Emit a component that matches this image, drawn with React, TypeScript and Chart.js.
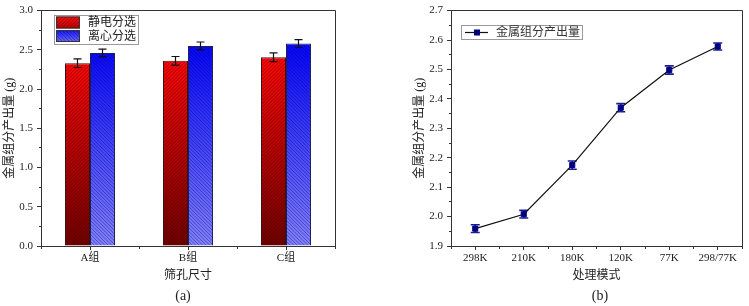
import React, { useEffect, useRef } from "react";
import { Chart, registerables } from "chart.js";

Chart.register(...registerables);

// ---------- data: chart (a) ----------
const sieveGroups = ["A组", "B组", "C组"];
const seriesNames = ["静电分选", "离心分选"];
const electrostaticYield = [2.33, 2.36, 2.405];
const electrostaticError = [0.055, 0.055, 0.055];
const centrifugalYield = [2.46, 2.55, 2.58];
const centrifugalError = [0.05, 0.05, 0.05];
const yMinA = 0;
const yMaxA = 3;
const yStepA = 0.5;
const xTitleA = "筛孔尺寸";

// ---------- data: chart (b) ----------
const treatmentModes = ["298K", "210K", "180K", "120K", "77K", "298/77K"];
const lineSeriesName = "金属组分产出量";
const metalYield = [1.959, 2.008, 2.175, 2.37, 2.498, 2.578];
const metalYieldError = [0.013, 0.013, 0.014, 0.014, 0.014, 0.012];
const yMinB = 1.9;
const yMaxB = 2.7;
const yStepB = 0.1;
const xTitleB = "处理模式";

const yTitle = "金属组分产出量 (g)";
const captions = ["(a)", "(b)"];

const FONT = "'Liberation Serif', 'Noto Sans CJK SC', serif";
const AXIS = "#333";
const TEXT = "#222";

function px(v: number) {
  return Math.round(v - 0.5) + 0.5;
}

function hatchRect(ctx: CanvasRenderingContext2D, l: number, t: number, r: number, b: number, dir: number, step: number, color: string) {
  if (r <= l || b <= t) return;
  ctx.save();
  ctx.beginPath();
  ctx.rect(l, t, r - l, b - t);
  ctx.clip();
  ctx.strokeStyle = color;
  ctx.lineWidth = 1;
  ctx.beginPath();
  const h = b - t;
  for (let k = l - h - step; k < r + step; k += step) {
    if (dir > 0) {
      ctx.moveTo(k, b);
      ctx.lineTo(k + h, t);
    } else {
      ctx.moveTo(k, t);
      ctx.lineTo(k + h, b);
    }
  }
  ctx.stroke();
  ctx.restore();
}

const frameMinorPlugin = (yStep: number) => ({
  id: "frameMinor",
  afterDraw(chart: any) {
    const { ctx, chartArea: a, scales } = chart;
    const x = scales.x;
    const y = scales.y;
    ctx.save();
    ctx.strokeStyle = AXIS;
    ctx.lineWidth = 1;
    ctx.beginPath();
    // top and right frame
    ctx.moveTo(px(a.left), px(a.top));
    ctx.lineTo(px(a.right), px(a.top));
    ctx.lineTo(px(a.right), px(a.bottom));
    // minor y ticks
    for (let v = y.min + yStep / 2; v < y.max; v += yStep) {
      const py = px(y.getPixelForValue(v));
      ctx.moveTo(a.left - 2, py);
      ctx.lineTo(px(a.left), py);
    }
    // minor x ticks at category boundaries
    const n = chart.data.labels.length;
    for (let i = 0; i <= n; i++) {
      const xx = px(x.getPixelForValue(i - 0.5));
      ctx.moveTo(xx, px(a.bottom));
      ctx.lineTo(xx, a.bottom + 3);
    }
    ctx.stroke();
    ctx.restore();
  },
});

function makeScales(opts: {
  yMin: number; yMax: number; yStep: number; xTitle: string; yWidth: number; xHeight: number;
}) {
  return {
    x: {
      type: "category" as const,
      offset: true,
      grid: { display: true, drawOnChartArea: false, drawTicks: true, tickLength: 4, offset: false, color: AXIS, tickColor: AXIS },
      border: { display: true, color: AXIS, width: 1 },
      ticks: { font: { family: FONT, size: 11 }, color: TEXT, padding: 2, maxRotation: 0, autoSkip: false },
      title: { display: true, text: opts.xTitle, font: { family: FONT, size: 12 }, color: TEXT, padding: { top: 0, bottom: 0 } },
      afterFit: (s: any) => { s.height = opts.xHeight; },
    },
    y: {
      type: "linear" as const,
      min: opts.yMin,
      max: opts.yMax,
      grid: { display: true, drawOnChartArea: false, drawTicks: true, tickLength: 4, color: AXIS, tickColor: AXIS },
      border: { display: true, color: AXIS, width: 1 },
      ticks: {
        stepSize: opts.yStep,
        font: { family: FONT, size: 11 },
        color: TEXT,
        padding: 4,
        callback: (v: any) => Number(v).toFixed(1),
      },
      title: { display: true, text: yTitle, font: { family: FONT, size: 12 }, color: TEXT, padding: { top: 3, bottom: 0 } },
      afterFit: (s: any) => { s.width = opts.yWidth; },
    },
  };
}

function BarChartA() {
  const ref = useRef<HTMLCanvasElement>(null);
  useEffect(() => {
    const canvas = ref.current!;
    const errs = [electrostaticError, centrifugalError];
    const hatchDirs = [1, -1];
    const hatchColors = ["rgba(40,0,0,0.35)", "rgba(0,0,60,0.35)"];

    const gradFill = (c: any, bottomCol: string, topCol: string, fallback: string) => {
      const chart = c.chart;
      const a = chart.chartArea;
      if (!a || !chart.scales.y) return fallback;
      const g = chart.ctx.createLinearGradient(0, a.bottom, 0, chart.scales.y.getPixelForValue(2.45));
      g.addColorStop(0, bottomCol);
      g.addColorStop(1, topCol);
      return g;
    };

    const barDecor = {
      id: "barDecor",
      afterDatasetsDraw(chart: any) {
        const { ctx } = chart;
        const y = chart.scales.y;
        chart.data.datasets.forEach((ds: any, i: number) => {
          const meta = chart.getDatasetMeta(i);
          meta.data.forEach((bar: any) => {
            const p = bar.getProps(["x", "y", "base", "width"], true);
            const l = p.x - p.width / 2;
            const r = p.x + p.width / 2;
            hatchRect(ctx, l + 1, p.y + 1, r - 1, p.base, hatchDirs[i], 3.5, hatchColors[i]);
          });
        });
        // error bars
        ctx.save();
        ctx.strokeStyle = "#111";
        ctx.lineWidth = 1.2;
        chart.data.datasets.forEach((ds: any, i: number) => {
          const meta = chart.getDatasetMeta(i);
          meta.data.forEach((bar: any, j: number) => {
            const v = ds.data[j];
            const e = errs[i][j];
            const x = px(bar.x);
            const yt = y.getPixelForValue(v + e);
            const yb = y.getPixelForValue(v - e);
            ctx.beginPath();
            ctx.moveTo(x, yt);
            ctx.lineTo(x, yb);
            ctx.moveTo(x - 4, yt);
            ctx.lineTo(x + 4, yt);
            ctx.moveTo(x - 4, yb);
            ctx.lineTo(x + 4, yb);
            ctx.stroke();
          });
        });
        ctx.restore();
      },
    };

    const legendA = {
      id: "legendA",
      afterDraw(chart: any) {
        const { ctx } = chart;
        ctx.save();
        ctx.fillStyle = "#fff";
        ctx.fillRect(54.5, 15.5, 84, 29);
        ctx.strokeStyle = "#999";
        ctx.lineWidth = 1;
        ctx.strokeRect(54.5, 15.5, 84, 29);
        const rows = [16.5, 30];
        const cols = [["#ff1010", "#b80000"], ["#1515ff", "#6a6aff"]];
        rows.forEach((ry, i) => {
          const g = ctx.createLinearGradient(0, ry, 0, ry + 12);
          g.addColorStop(0, cols[i][0]);
          g.addColorStop(1, cols[i][1]);
          ctx.fillStyle = g;
          ctx.fillRect(56, ry, 24, 12);
          hatchRect(ctx, 56, ry, 80, ry + 12, hatchDirs[i], 3.5, hatchColors[i]);
          ctx.strokeStyle = "#333";
          ctx.strokeRect(56.5, ry + 0.5, 23, 11);
          ctx.fillStyle = TEXT;
          ctx.font = `12px ${FONT}`;
          ctx.textBaseline = "middle";
          ctx.textAlign = "left";
          ctx.fillText(seriesNames[i], 88, ry + 6.5);
        });
        ctx.restore();
      },
    };

    const chart = new Chart(canvas, {
      type: "bar",
      data: {
        labels: sieveGroups,
        datasets: [
          {
            label: seriesNames[0],
            data: electrostaticYield,
            backgroundColor: (c: any) => gradFill(c, "#700000", "#ff0808", "#e00000"),
            borderColor: "#3a1010",
            borderWidth: 1,
            categoryPercentage: 0.51,
            barPercentage: 1,
          },
          {
            label: seriesNames[1],
            data: centrifugalYield,
            backgroundColor: (c: any) => gradFill(c, "#8080ff", "#0a0aff", "#3030ff"),
            borderColor: "#202050",
            borderWidth: 1,
            categoryPercentage: 0.51,
            barPercentage: 1,
          },
        ],
      },
      options: {
        animation: false,
        responsive: false,
        devicePixelRatio: 1,
        layout: { padding: { left: 0, right: 40, top: 10, bottom: 23 } },
        plugins: { legend: { display: false }, tooltip: { enabled: false } },
        scales: makeScales({ yMin: yMinA, yMax: yMaxA, yStep: yStepA, xTitle: xTitleA, yWidth: 41, xHeight: 37 }) as any,
      },
      plugins: [barDecor, frameMinorPlugin(yStepA), legendA],
    });
    return () => chart.destroy();
  }, []);
  return (
    <canvas
      ref={ref}
      width={375}
      height={306}
      style={{ position: "absolute", left: 0, top: 0, width: 375, height: 306 }}
    />
  );
}

function LineChartB() {
  const ref = useRef<HTMLCanvasElement>(null);
  useEffect(() => {
    const canvas = ref.current!;
    const errPlugin = {
      id: "errB",
      beforeDatasetsDraw(chart: any) {
        const { ctx } = chart;
        const y = chart.scales.y;
        const meta = chart.getDatasetMeta(0);
        ctx.save();
        ctx.strokeStyle = "#1c1c9a";
        ctx.lineWidth = 1.6;
        meta.data.forEach((pt: any, j: number) => {
          const v = metalYield[j];
          const e = metalYieldError[j];
          const x = pt.x;
          const yt = y.getPixelForValue(v + e);
          const yb = y.getPixelForValue(v - e);
          ctx.beginPath();
          ctx.moveTo(x, yt);
          ctx.lineTo(x, yb);
          ctx.moveTo(x - 4.5, yt);
          ctx.lineTo(x + 4.5, yt);
          ctx.moveTo(x - 4.5, yb);
          ctx.lineTo(x + 4.5, yb);
          ctx.stroke();
        });
        ctx.restore();
      },
    };
    const legendB = {
      id: "legendB",
      afterDraw(chart: any) {
        const { ctx } = chart;
        ctx.save();
        ctx.fillStyle = "#fff";
        ctx.fillRect(86.5, 25.5, 121, 14);
        ctx.strokeStyle = "#999";
        ctx.lineWidth = 1;
        ctx.strokeRect(86.5, 25.5, 121, 14);
        ctx.strokeStyle = "#111";
        ctx.lineWidth = 1.2;
        ctx.beginPath();
        ctx.moveTo(90, 32.5);
        ctx.lineTo(113, 32.5);
        ctx.stroke();
        ctx.fillStyle = "#00007f";
        ctx.fillRect(99, 29.5, 6, 6);
        ctx.fillStyle = "#333";
        ctx.font = `12px ${FONT}`;
        ctx.textBaseline = "middle";
        ctx.textAlign = "left";
        ctx.fillText(lineSeriesName, 121, 33);
        ctx.restore();
      },
    };
    const chart = new Chart(canvas, {
      type: "line",
      data: {
        labels: treatmentModes,
        datasets: [
          {
            label: lineSeriesName,
            data: metalYield,
            borderColor: "#111",
            borderWidth: 1.2,
            pointStyle: "rect",
            pointRadius: 3.6,
            pointBorderWidth: 1,
            pointBackgroundColor: "#00007f",
            pointBorderColor: "#00007f",
            tension: 0,
            fill: false,
          },
        ],
      },
      options: {
        animation: false,
        responsive: false,
        devicePixelRatio: 1,
        layout: { padding: { left: 35, right: 7, top: 10, bottom: 23 } },
        plugins: { legend: { display: false }, tooltip: { enabled: false } },
        scales: makeScales({ yMin: yMinB, yMax: yMaxB, yStep: yStepB, xTitle: xTitleB, yWidth: 41, xHeight: 37 }) as any,
      },
      plugins: [errPlugin, frameMinorPlugin(yStepB), legendB],
    });
    return () => chart.destroy();
  }, []);
  return (
    <canvas
      ref={ref}
      width={374}
      height={306}
      style={{ position: "absolute", left: 375, top: 0, width: 374, height: 306 }}
    />
  );
}

const captionStyle = (cx: number): React.CSSProperties => ({
  position: "absolute",
  left: cx - 20,
  width: 40,
  top: 287,
  textAlign: "center",
  fontFamily: FONT,
  fontSize: 14,
  lineHeight: "18px",
  color: TEXT,
});

export default function App() {
  return (
    <div
      style={{
        position: "fixed",
        left: 0,
        top: 0,
        width: 749,
        height: 306,
        background: "#fff",
        overflow: "hidden",
      }}
    >
      <BarChartA />
      <LineChartB />
      <div style={captionStyle(183)}>{captions[0]}</div>
      <div style={captionStyle(600)}>{captions[1]}</div>
    </div>
  );
}
